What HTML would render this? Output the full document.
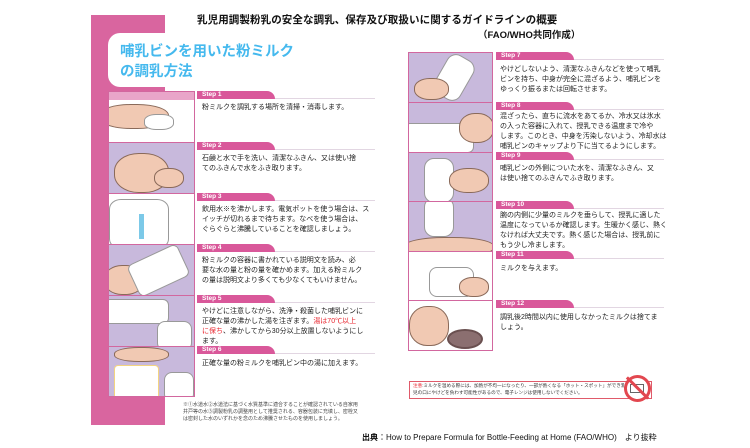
<!DOCTYPE html>
<html><head><meta charset="utf-8"><style>
*{margin:0;padding:0;box-sizing:border-box}
body{width:750px;height:448px;background:#fff;position:relative;overflow:hidden;font-family:"Liberation Sans","Noto Sans CJK JP",sans-serif;color:#222}
.a{position:absolute}
.img{position:absolute;background:#c8b9dc;border:1.5px solid #d2679f;overflow:hidden}
.img i{position:absolute;background:#fff;border-radius:40%;border:1px solid #999}
.img b{position:absolute;background:#f1c9b3;border-radius:45%;border:1px solid #8a6a5a}
.tab{position:absolute;height:8px;width:78px;background:#d9589a;border-radius:0 8px 0 0;color:#fff;font-size:6.5px;font-weight:bold;line-height:8px;padding-left:5px}
.line{position:absolute;height:1px;background:#e2d6e2}
.t{position:absolute;font-size:7px;line-height:10px;color:#222;white-space:nowrap}
.red{color:#e8262f}
</style></head><body>
<div class="a" style="left:91px;top:15px;width:74px;height:410px;background:#d9659f"></div>
<div class="a" style="left:108px;top:33px;width:200px;height:54px;background:#fff;border-radius:12px 0 0 12px"></div>
<div class="a" style="left:120px;top:42px;font-size:14.5px;line-height:20px;font-weight:bold;color:#45b9ee">哺乳ビンを用いた粉ミルク<br>の調乳方法</div>
<div class="a" style="left:197px;top:12px;font-size:10.5px;font-weight:bold;color:#111;white-space:nowrap;letter-spacing:0.1px">乳児用調製粉乳の安全な調乳、保存及び取扱いに関するガイドラインの概要</div>
<div class="a" style="left:478px;top:27px;font-size:9.5px;font-weight:bold;color:#111">（FAO/WHO共同作成）</div>

<!-- left images -->
<div class="img" style="left:108px;top:91px;width:87px;height:52px;background:#fff"><b style="left:-10px;top:12px;width:70px;height:25px"></b><i style="left:35px;top:22px;width:30px;height:16px"></i><div class="a" style="left:0;top:0;width:87px;height:8px;background:#e9a5c9"></div></div>
<div class="img" style="left:108px;top:142px;width:87px;height:52px"><b style="left:5px;top:10px;width:55px;height:40px"></b><b style="left:45px;top:25px;width:30px;height:20px"></b></div>
<div class="img" style="left:108px;top:193px;width:87px;height:52px;background:#fff"><i style="left:0px;top:5px;width:60px;height:50px;border-radius:20%"></i><div class="a" style="left:30px;top:20px;width:5px;height:25px;background:#7cc9e8"></div></div>
<div class="img" style="left:108px;top:244px;width:87px;height:52px"><b style="left:-5px;top:20px;width:40px;height:30px"></b><i style="left:22px;top:8px;width:55px;height:35px;border-radius:6px;transform:rotate(-25deg)"></i></div>
<div class="img" style="left:108px;top:295px;width:87px;height:52px"><i style="left:-5px;top:3px;width:65px;height:25px;border-radius:6px"></i><i style="left:48px;top:25px;width:35px;height:30px;border-radius:8px"></i></div>
<div class="img" style="left:108px;top:346px;width:87px;height:51px"><b style="left:5px;top:0px;width:55px;height:15px"></b><i style="left:5px;top:18px;width:45px;height:36px;border-radius:4px;border-color:#f3d480"></i><i style="left:55px;top:25px;width:30px;height:30px;border-radius:8px"></i></div>

<!-- left steps -->
<div class="tab" style="left:197px;top:91px">Step 1</div><div class="line" style="left:275px;top:98px;width:100px"></div>
<div class="t" style="left:202px;top:103px">粉ミルクを調乳する場所を清掃・消毒します。</div>
<div class="tab" style="left:197px;top:142px">Step 2</div><div class="line" style="left:275px;top:149px;width:100px"></div>
<div class="t" style="left:202px;top:154px">石鹸と水で手を洗い、清潔なふきん、又は使い捨<br>てのふきんで水をふき取ります。</div>
<div class="tab" style="left:197px;top:193px">Step 3</div><div class="line" style="left:275px;top:200px;width:100px"></div>
<div class="t" style="left:202px;top:205px">飲用水※を沸かします。電気ポットを使う場合は、ス<br>イッチが切れるまで待ちます。なべを使う場合は、<br>ぐらぐらと沸騰していることを確認しましょう。</div>
<div class="tab" style="left:197px;top:244px">Step 4</div><div class="line" style="left:275px;top:251px;width:100px"></div>
<div class="t" style="left:202px;top:256px">粉ミルクの容器に書かれている説明文を読み、必<br>要な水の量と粉の量を確かめます。加える粉ミルク<br>の量は説明文より多くても少なくてもいけません。</div>
<div class="tab" style="left:197px;top:295px">Step 5</div><div class="line" style="left:275px;top:302px;width:100px"></div>
<div class="t" style="left:202px;top:307px">やけどに注意しながら、洗浄・殺菌した哺乳ビンに<br>正確な量の沸かした湯を注ぎます。<span class="red">湯は70℃以上</span><br><span class="red">に保ち</span>、沸かしてから30分以上放置しないようにし<br>ます。</div>
<div class="tab" style="left:197px;top:346px">Step 6</div><div class="line" style="left:275px;top:353px;width:100px"></div>
<div class="t" style="left:202px;top:359px">正確な量の粉ミルクを哺乳ビン中の湯に加えます。</div>
<div class="t" style="left:183px;top:402px;font-size:5px;line-height:7px;color:#444">※①水道水②水道法に基づく水質基準に適合することが確認されている自家用<br>井戸等の水③調製粉乳の調整用として推奨される、容器包装に充填し、密栓又<br>は密封した水のいずれかを念のため沸騰させたものを使用しましょう。</div>

<!-- right images -->
<div class="img" style="left:408px;top:52px;width:85px;height:51px"><i style="left:30px;top:2px;width:30px;height:45px;border-radius:10px;transform:rotate(30deg)"></i><b style="left:5px;top:25px;width:35px;height:22px"></b></div>
<div class="img" style="left:408px;top:102px;width:85px;height:51px"><i style="left:-5px;top:20px;width:70px;height:30px;border-radius:6px"></i><b style="left:50px;top:10px;width:35px;height:30px"></b></div>
<div class="img" style="left:408px;top:152px;width:85px;height:50px"><i style="left:15px;top:5px;width:30px;height:45px;border-radius:10px"></i><b style="left:40px;top:15px;width:40px;height:25px"></b></div>
<div class="img" style="left:408px;top:201px;width:85px;height:51px"><i style="left:15px;top:-5px;width:30px;height:40px;border-radius:10px"></i><b style="left:-5px;top:35px;width:90px;height:20px"></b></div>
<div class="img" style="left:408px;top:251px;width:85px;height:50px;background:#fff"><i style="left:20px;top:15px;width:45px;height:30px;border-radius:8px"></i><b style="left:50px;top:25px;width:30px;height:20px"></b></div>
<div class="img" style="left:408px;top:300px;width:85px;height:51px;background:#fff"><b style="left:0px;top:5px;width:40px;height:40px"></b><div class="a" style="left:38px;top:28px;width:36px;height:20px;border-radius:50%;background:#8b6f70;border:2px solid #6a5050"></div></div>

<!-- right steps -->
<div class="tab" style="left:496px;top:52px">Step 7</div><div class="line" style="left:574px;top:59px;width:90px"></div>
<div class="t" style="left:500px;top:65px">やけどしないよう、清潔なふきんなどを使って哺乳<br>ビンを持ち、中身が完全に混ざるよう、哺乳ビンを<br>ゆっくり振るまたは回転させます。</div>
<div class="tab" style="left:496px;top:102px">Step 8</div><div class="line" style="left:574px;top:109px;width:90px"></div>
<div class="t" style="left:500px;top:112px">混ざったら、直ちに流水をあてるか、冷水又は氷水<br>の入った容器に入れて、授乳できる温度まで冷や<br>します。このとき、中身を汚染しないよう、冷却水は<br>哺乳ビンのキャップより下に当てるようにします。</div>
<div class="tab" style="left:496px;top:152px">Step 9</div><div class="line" style="left:574px;top:159px;width:90px"></div>
<div class="t" style="left:500px;top:164px">哺乳ビンの外側についた水を、清潔なふきん、又<br>は使い捨てのふきんでふき取ります。</div>
<div class="tab" style="left:496px;top:201px">Step 10</div><div class="line" style="left:574px;top:208px;width:90px"></div>
<div class="t" style="left:500px;top:211px">腕の内側に少量のミルクを垂らして、授乳に適した<br>温度になっているか確認します。生暖かく感じ、熱く<br>なければ大丈夫です。熱く感じた場合は、授乳前に<br>もう少し冷まします。</div>
<div class="tab" style="left:496px;top:251px">Step 11</div><div class="line" style="left:574px;top:258px;width:90px"></div>
<div class="t" style="left:500px;top:264px">ミルクを与えます。</div>
<div class="tab" style="left:496px;top:300px">Step 12</div><div class="line" style="left:574px;top:307px;width:90px"></div>
<div class="t" style="left:500px;top:313px">調乳後2時間以内に使用しなかったミルクは捨てま<br>しょう。</div>

<div class="a" style="left:409px;top:381px;width:243px;height:18px;border:1px solid #e05a6a"></div>
<div class="t" style="left:413px;top:383px;font-size:4.6px;line-height:6.5px;color:#333"><span class="red">注意</span>:ミルクを温める際には、加熱が不均一になったり、一部が熱くなる「ホット・スポット」ができ乳<br>児の口にやけどを負わす可能性があるので、電子レンジは使用しないでください。</div>
<div class="a" style="left:624px;top:375px;width:27px;height:27px;border-radius:50%;border:3px solid #e2474f;background:#fff"></div>
<div class="a" style="left:630px;top:384px;width:14px;height:9px;border:1px solid #666"></div>
<div class="a" style="left:636px;top:373px;width:3px;height:30px;background:#e2474f;transform:rotate(-45deg)"></div>

<div class="a" style="left:362px;top:432px;font-size:8px;color:#111;white-space:nowrap"><b>出典</b>：How to Prepare Formula for Bottle-Feeding at Home (FAO/WHO)　より抜粋</div>
</body></html>
